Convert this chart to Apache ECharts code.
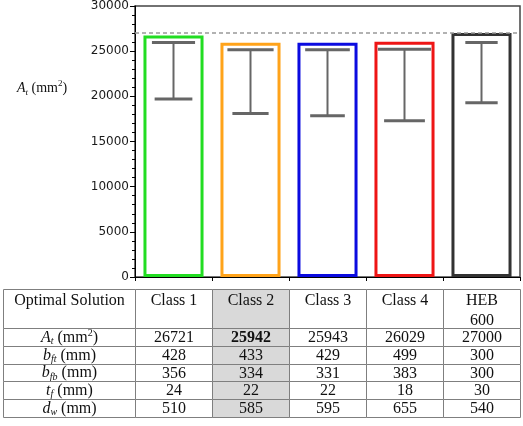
<!DOCTYPE html>
<html><head><meta charset="utf-8">
<script src="https://cdn.jsdelivr.net/npm/echarts@6/dist/echarts.min.js"></script>
<style>html,body{margin:0;padding:0;background:#fff}#c{width:523px;height:426px}</style>
</head><body><div id="c"></div>
<script>
// ---- data ----
const categories = ['Class 1', 'Class 2', 'Class 3', 'Class 4', 'HEB 600'];
const areaValues = [26721, 25942, 25943, 26029, 27000];
const errHigh = [25950, 25150, 25150, 25200, 25950];
const errLow = [19700, 18100, 17850, 17300, 19300];
const referenceLine = 27000;
const yMin = 0, yMax = 30000, yInterval = 5000;
const headerLabel = 'Optimal Solution';
const headerRow = ['Class 1', 'Class 2', 'Class 3', 'Class 4', 'HEB\n600'];
const rowLabels = ['{i|A}{is|t} (mm{sup|2})', '{i|b}{is|ft} (mm)', '{i|b}{is|fb} (mm)', '{i|t}{is|f} (mm)', '{i|d}{is|w} (mm)'];
const rowAt = [26721, 25942, 25943, 26029, 27000];
const rowBft = [428, 433, 429, 499, 300];
const rowBfb = [356, 334, 331, 383, 300];
const rowTf = [24, 22, 22, 18, 30];
const rowDw = [510, 585, 595, 655, 540];
const tableRows = [rowAt, rowBft, rowBfb, rowTf, rowDw];

// ---- styles / layout ----
const barColors = ['#22dd22', '#ffa31a', '#0b0be0', '#ee1515', '#333333'];
const capTop = [0.56, 0.60, 0.58, 0.69, 0.42];
const capBot = [0.49, 0.47, 0.45, 0.53, 0.42];
const rowEdges = [0, 2.2, 3.2, 4.2, 5.2, 6.2, 7.2];
const highlightCol = 1;
const boldCell = {row: 0, col: 1};
const tableLeft = 3;
const serif = 'Liberation Serif';
const FS = 16;

const richStyles = function (fs) {
  return {
    i: {fontStyle: 'italic', fontFamily: serif, fontSize: fs, fill: '#111', color: '#111', lineHeight: 18},
    is: {fontStyle: 'italic', fontFamily: serif, fontSize: Math.round(fs * 0.65), fill: '#111', color: '#111', verticalAlign: 'bottom'},
    sup: {fontFamily: serif, fontSize: Math.round(fs * 0.65), fill: '#111', color: '#111', verticalAlign: 'top'}
  };
};

const chart = echarts.init(document.getElementById('c'), null, {renderer: 'canvas'});

function renderErr(params, api) {
  const i = api.value(0);
  const lo = api.coord([i, api.value(1)]);
  const hi = api.coord([i, api.value(2)]);
  const band = api.size([1, 0])[0];
  const tw = band * capTop[i] / 2, bw = band * capBot[i] / 2;
  const st = {stroke: '#666', lineWidth: 3};
  return {type: 'group', children: [
    {type: 'line', shape: {x1: hi[0], y1: hi[1], x2: lo[0], y2: lo[1]}, style: {stroke: '#666', lineWidth: 2}},
    {type: 'line', shape: {x1: hi[0] - tw, y1: hi[1], x2: hi[0] + tw, y2: hi[1]}, style: st},
    {type: 'line', shape: {x1: lo[0] - bw, y1: lo[1], x2: lo[0] + bw, y2: lo[1]}, style: st}
  ]};
}

function renderCell(params, api) {
  const c = api.value(2), r = api.value(3);
  const cs = params.coordSys;
  const yTop = Math.round(api.coord([0, rowEdges[r]])[1]) + 0.5;
  const yBot = Math.round(api.coord([0, rowEdges[r + 1]])[1]) + 0.5;
  let x0, x1;
  if (c < 0) { x0 = tableLeft; x1 = cs.x; }
  else {
    const cx = api.coord([c, 0])[0];
    const bw = api.size([1, 0])[0];
    x0 = cx - bw / 2; x1 = cx + bw / 2;
  }
  x0 = Math.round(x0) + 0.5; x1 = Math.round(x1) + 0.5;
  const fill = c === highlightCol ? '#d9d9d9' : '#fff';
  let textEl;
  if (r === 0) {
    textEl = {type: 'text', style: {
      text: c < 0 ? headerLabel : headerRow[c], x: (x0 + x1) / 2, y: yTop + 1,
      align: 'center', verticalAlign: 'top', fontFamily: serif, fontSize: FS, lineHeight: 20, fill: '#111'}};
  } else if (c < 0) {
    textEl = {type: 'text', style: {
      text: rowLabels[r - 1], rich: richStyles(FS), x: (x0 + x1) / 2, y: (yTop + yBot) / 2,
      align: 'center', verticalAlign: 'middle', fontFamily: serif, fontSize: FS, lineHeight: 18, fill: '#111'}};
  } else {
    const bold = (r - 1 === boldCell.row && c === boldCell.col);
    textEl = {type: 'text', style: {
      text: String(tableRows[r - 1][c]), x: (x0 + x1) / 2, y: (yTop + yBot) / 2 + 0.5,
      align: 'center', verticalAlign: 'middle', fontFamily: serif, fontSize: FS,
      fontWeight: bold ? 'bold' : 'normal', fill: '#111'}};
  }
  return {type: 'group', children: [
    {type: 'rect', shape: {x: x0, y: yTop, width: x1 - x0, height: yBot - yTop},
      style: {fill: fill, stroke: '#7f7f7f', lineWidth: 1}},
    textEl
  ]};
}

const tableData = [];
for (let r = 0; r < rowEdges.length - 1; r++) {
  for (let c = -1; c < categories.length; c++) {
    tableData.push([Math.max(c, 0), rowEdges[r], c, r]);
  }
}

const option = {
  animation: false,
  backgroundColor: '#fff',
  grid: [
    {left: 135, right: 3, top: 6, bottom: 149, show: true, borderColor: '#444', borderWidth: 1.5, containLabel: false},
    {left: 135, right: 3, top: 289, bottom: 9, show: false, containLabel: false}
  ],
  xAxis: [
    {type: 'category', gridIndex: 0, data: categories,
      axisLine: {show: true, lineStyle: {color: '#000', width: 1}},
      axisTick: {show: true, length: 4, lineStyle: {color: '#000'}},
      axisLabel: {show: false}, splitLine: {show: false}},
    {type: 'category', gridIndex: 1, data: categories, show: false}
  ],
  yAxis: [
    {type: 'value', gridIndex: 0, min: yMin, max: yMax, interval: yInterval,
      axisLine: {show: true, lineStyle: {color: '#000', width: 1}},
      axisTick: {show: true, length: 5, lineStyle: {color: '#000'}},
      minorTick: {show: true, splitNumber: 5, length: 3, lineStyle: {color: '#000'}},
      splitLine: {show: false},
      axisLabel: {fontFamily: 'DejaVu Sans', fontSize: 12, color: '#1a1a1a', margin: 6, formatter: v => String(v)}},
    {type: 'value', gridIndex: 1, min: 0, max: rowEdges[rowEdges.length - 1], inverse: true, show: false}
  ],
  graphic: [
    {type: 'text', left: 17, top: 79, style: {
      text: '{i|A}{is|t} (mm{sup|2})', rich: richStyles(14),
      fontFamily: serif, fontSize: 14, lineHeight: 18, fill: '#111'}}
  ],
  series: [
    {type: 'bar', xAxisIndex: 0, yAxisIndex: 0, barWidth: '78%',
      data: areaValues.map((v, i) => ({value: v, itemStyle: {color: 'rgba(255,255,255,0)', borderColor: barColors[i], borderWidth: 3}})),
      markLine: {silent: true, symbol: 'none', label: {show: false},
        lineStyle: {color: '#999', type: [4, 3], width: 1.5},
        data: [{yAxis: referenceLine}]}},
    {type: 'custom', xAxisIndex: 0, yAxisIndex: 0, renderItem: renderErr, z: 3,
      encode: {x: 0, y: [1, 2]},
      data: categories.map((_, i) => [i, errLow[i], errHigh[i]])},
    {type: 'custom', xAxisIndex: 1, yAxisIndex: 1, renderItem: renderCell, clip: false,
      encode: {x: 0, y: 1}, data: tableData}
  ]
};
chart.setOption(option);
</script>
</body></html>
